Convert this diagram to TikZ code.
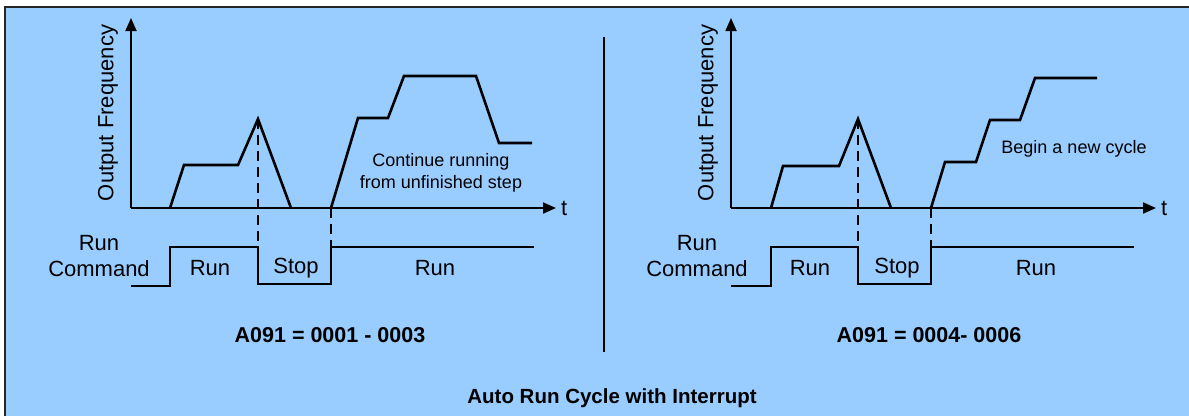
\documentclass[tikz,border=0pt]{standalone}
\usepackage{fontspec}
\setmainfont{Liberation Sans}
\usetikzlibrary{arrows.meta}
\definecolor{panelblue}{HTML}{99CCFF}
\tikzset{
  lbl/.style={font=\fontsize{22}{25.5}\selectfont, inner sep=0pt, align=center},
  note/.style={font=\fontsize{18}{22.5}\selectfont, inner sep=0pt, align=center},
  ttl/.style={font=\bfseries\fontsize{20.5}{24}\selectfont, inner sep=0pt},
  param/.style={font=\bfseries\fontsize{21.5}{24}\selectfont, inner sep=0pt},
  axis/.style={-{Triangle[length=13pt,width=11pt]}, line width=1.8pt},
  freq/.style={line width=2.6pt, line join=miter},
  cmd/.style={line width=1.6pt},
  guide/.style={dash pattern=on 10pt off 6pt, line width=1.3pt}
}
\begin{document}
\begin{tikzpicture}[x=1pt,y=-1pt]
\useasboundingbox (0,0) rectangle (1189,416);
\fill[panelblue] (5,7) rectangle (1189,416);
\draw[line width=1.5pt, black!85] (5,416) -- (5,7) -- (1189,7);

% left panel: continue running
\coordinate (orgA) at (131,208);
\coordinate (ytopA) at (131,18);
\coordinate (xendA) at (556,208);
\draw[axis] (orgA) -- (ytopA);
\draw[axis] (orgA) -- (xendA);
\node[lbl, anchor=west] (tA) at (561,208) {t};
\node[lbl, rotate=90] (yA) at (108,113) {Output Frequency};
\draw[freq] (170,208) -- (184,165) -- (238,165) -- (258,119) coordinate (peakA) -- (291,208);
\draw[freq] (331,208) coordinate (restartA) -- (358,118) -- (388,118) -- (404,76) -- (476,76) -- (499,143) -- (532,143);
\draw[cmd] (131,286) -- (170,286) -- (170,247) -- (258,247) coordinate (offA) -- (258,284) -- (331,284) -- (331,247) coordinate (onA) -- (534,247);
\draw[guide] (peakA) -- (offA);
\draw[guide] (restartA) -- (onA);
\node[lbl] (cmdA) at (99,256) {Run\\Command};
\node[lbl] (runA) at (210,268) {Run};
\node[lbl] (stopA) at (296,268) {Stop};
\node[lbl] (runAA) at (435,268) {Run};
\node[note] (contA) at (441,173) {Continue running\\from unfinished step};
\node[param] (setA) at (330,335) {A091 = 0001 - 0003};

\draw[line width=1.3pt] (604,37) -- (604,352);

% right panel: begin a new cycle
\coordinate (orgB) at (731,208);
\coordinate (ytopB) at (731,18);
\coordinate (xendB) at (1156,208);
\draw[axis] (orgB) -- (ytopB);
\draw[axis] (orgB) -- (xendB);
\node[lbl, anchor=west] (tB) at (1161,208) {t};
\node[lbl, rotate=90] (yB) at (708,113) {Output Frequency};
\draw[freq] (771,208) -- (783,166) -- (839,166) -- (858,119) coordinate (peakB) -- (891,208);
\draw[freq] (931,208) coordinate (restartB) -- (945,162) -- (976,162) -- (990,120) -- (1020,120) -- (1035,78) -- (1097,78);
\draw[cmd] (731,286) -- (771,286) -- (771,247) -- (858,247) coordinate (offB) -- (858,284) -- (931,284) -- (931,247) coordinate (onB) -- (1134,247);
\draw[guide] (peakB) -- (offB);
\draw[guide] (restartB) -- (onB);
\node[lbl] (cmdB) at (697,256) {Run\\Command};
\node[lbl] (runB) at (810,268) {Run};
\node[lbl] (stopB) at (897,268) {Stop};
\node[lbl] (runBB) at (1036,268) {Run};
\node[note] (newB) at (1074,149) {Begin a new cycle};
\node[param] (setB) at (929,335) {A091 = 0004- 0006};

\node[ttl] (title) at (612,398) {Auto Run Cycle with Interrupt};
\end{tikzpicture}
\end{document}
